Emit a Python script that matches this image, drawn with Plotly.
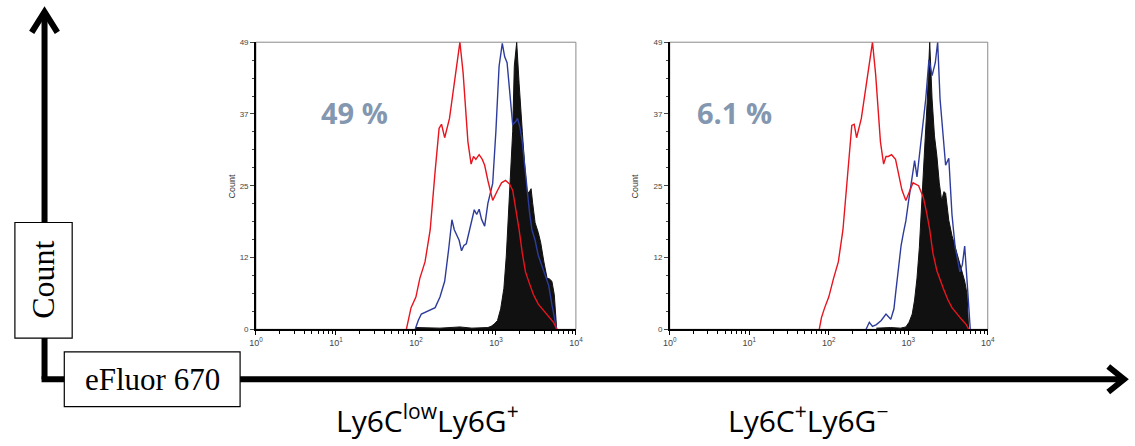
import plotly.graph_objects as go

W, H = 1135, 446

# ---- data (fluorescence intensity, count) ----
left_red_x = [76, 81, 87, 100, 112, 130, 151, 174, 195, 209, 229, 263, 288, 324, 355, 389, 417, 447,
              490, 525, 562, 617, 676, 724, 794, 912, 1047, 1175, 1318, 1479, 1622, 1778, 1950,
              2138, 2344, 2630, 2951, 3388, 3981, 4571, 5248, 5754]
left_red_y = [0, 2, 3.7, 5.5, 8.7, 11.5, 17, 27, 34.3, 35, 32.7, 36, 40, 45.5, 49, 43.8, 37, 32,
              28.2, 29.5, 29, 29.8, 29, 28, 25.4, 22, 23.7, 25, 25.4, 24.8, 23.7, 20.5, 17,
              13, 9.8, 7.8, 5.9, 4.3, 3.1, 2.2, 1.2, 0]

left_blue_x = [98, 107, 117, 132, 148, 174, 200, 229, 257, 282, 302, 324, 347, 372, 398, 427, 457,
               501, 537, 575, 617, 661, 724, 794, 912, 1000, 1096, 1202, 1288, 1380, 1514, 1622,
               1778, 1862, 1995, 2138, 2291, 2455, 2630, 2818, 3090, 3388, 3715, 4169, 4571, 5012, 5754]
left_blue_y = [0, 1.5, 2.6, 2.9, 3.3, 3.7, 5.5, 8.2, 13.7, 18.7, 17, 16.2, 15.2, 13.4, 14.3, 14.6, 16.5,
               18.8, 20.4, 19.6, 20.5, 18.8, 17.6, 21.5, 24.9, 33.8, 44.9, 48.8, 46.5, 45.5, 40, 34.9,
               35.5, 36, 34.5, 32, 28, 23.7, 20, 17, 15.2, 12.6, 11, 9.2, 7.5, 4.2, 0]

left_black_x = [100, 200, 355, 501, 794, 871, 955, 1047, 1148, 1259, 1349, 1445, 1549, 1622, 1698,
                1820, 1950, 2042, 2138, 2291, 2455, 2630, 2754, 2884, 3090, 3388, 3631, 3981,
                4365, 4677, 5012, 5370, 5754]
left_black_y = [0.3, 0.2, 0.4, 0.2, 0.3, 0.5, 0.9, 1.5, 3.5, 7, 12.5, 19.9, 27.5, 33.8, 44.9,
                49, 42, 37, 33.8, 28, 23.2, 23.5, 24, 21.5, 18.2, 16.5, 14.8, 11.5,
                8.7, 8.6, 8.2, 5.9, 0]

right_red_x = [76, 81, 89, 100, 115, 132, 151, 174, 195, 209, 224, 257, 288, 316, 355, 389, 417, 447,
               490, 525, 562, 617, 692, 776, 832, 933, 1047, 1148, 1349, 1549, 1698, 1862, 2042,
               2291, 2754, 3162, 3548, 4074, 4677, 5370, 5754]
right_red_y = [0, 2, 3.7, 5.5, 8.7, 11.5, 17, 27, 34.8, 35, 32.7, 36, 40.5, 45, 49, 43.5, 37, 32,
               28.2, 29.5, 29.5, 29.8, 29, 25.5, 23.8, 22, 23.5, 25, 24.5, 22.5, 20, 17, 13,
               10, 7, 5, 3.7, 2.6, 1.7, 0.8, 0]

right_blue_x = [295, 324, 355, 398, 457, 525, 603, 661, 692, 741, 813, 871, 933, 1000, 1072, 1148,
                1202, 1288, 1380, 1445, 1549, 1660, 1820, 1995, 2188, 2344, 2512, 2754, 2951, 3236,
                3548, 3890, 4169, 4467, 4786, 5129, 5495, 6026]
right_blue_y = [0, 1.2, 0.5, 0.8, 1.5, 2.6, 1.7, 3.5, 6, 10, 14.3, 16.5, 18.5, 21.5, 24.3, 27,
                28.8, 26, 29.5, 31.6, 35.5, 39.3, 46, 43.3, 45.5, 49, 39.3, 32, 28, 29.2,
                19.6, 14, 12, 9.8, 11, 14.2, 8.2, 0]

right_black_x = [398, 600, 800, 933, 1023, 1122, 1202, 1288, 1380, 1445, 1585, 1738, 1862, 1995,
                 2138, 2291, 2455, 2630, 2818, 2951, 3236, 3548, 3890, 4266, 4677, 5129, 5495, 5754]
right_black_y = [0.2, 0.3, 0.2, 0.4, 1.2, 2.6, 5, 8.7, 14, 20, 29.3, 39.3, 49, 39.3,
                 33, 29.6, 25, 22, 23.5, 23.2, 18.6, 16, 14, 12, 10, 8.2, 6, 0]

percent_labels = ["49 %", "6.1 %"]
population_labels = ["Ly6C<sup>low</sup>Ly6G<sup>+</sup>", "Ly6C<sup>+</sup>Ly6G<sup>\u2212</sup>"]

y_max = 49
y_tickvals = [0, 12.25, 24.5, 36.75, 49]
y_ticktext = ["0", "12", "25", "37", "49"]
x_tickvals = [1, 10, 100, 1000, 10000]
x_ticktext = ["10<sup>0</sup>", "10<sup>1</sup>", "10<sup>2</sup>", "10<sup>3</sup>", "10<sup>4</sup>"]


def fx(p):
    return p / W


def fy(p):
    return 1 - p / H


RED = "#e8141e"
BLUE = "#2d3c9c"
BLACK = "#111111"

fig = go.Figure()

panels = [
    ("x", "y", left_black_x, left_black_y, left_blue_x, left_blue_y, left_red_x, left_red_y),
    ("x2", "y2", right_black_x, right_black_y, right_blue_x, right_blue_y, right_red_x, right_red_y),
]
for xa, ya, kx, ky, bx, by, rx, ry in panels:
    fig.add_trace(go.Scatter(x=kx, y=ky, xaxis=xa, yaxis=ya, mode="lines", fill="tozeroy",
                             fillcolor=BLACK, line=dict(color=BLACK, width=1)))
    fig.add_trace(go.Scatter(x=bx, y=by, xaxis=xa, yaxis=ya, mode="lines",
                             line=dict(color=BLUE, width=1.4)))
    fig.add_trace(go.Scatter(x=rx, y=ry, xaxis=xa, yaxis=ya, mode="lines",
                             line=dict(color=RED, width=1.4)))

minor_x = [m * 10 ** d for d in range(4) for m in range(2, 10)]
minor_y = [i * y_max / 16 for i in range(17)]

ydom = [fy(332), fy(39)]
xdoms = [[fx(252), fx(576)], [fx(671), fx(993)]]

xaxis_common = dict(type="log", range=[0, 4], showgrid=False, zeroline=False,
                    showline=True, linecolor="black", linewidth=1.5,
                    ticks="outside", ticklen=4, tickcolor="black",
                    tickvals=x_tickvals, ticktext=x_ticktext,
                    tickfont=dict(family="Liberation Sans", size=9, color="#444"),
                    minor=dict(tickvals=minor_x, ticks="outside", ticklen=3, tickcolor="black"))
yaxis_common = dict(range=[0, y_max], showgrid=False, zeroline=False,
                    showline=True, linecolor="black", linewidth=1.5,
                    ticks="outside", ticklen=4, tickcolor="#444",
                    tickvals=y_tickvals, ticktext=y_ticktext,
                    tickfont=dict(family="Liberation Sans", size=8, color="#444"),
                    minor=dict(tickvals=minor_y, ticks="outside", ticklen=2, tickcolor="#444"))

fig.update_layout(
    width=W, height=H, margin=dict(l=0, r=0, t=0, b=0),
    paper_bgcolor="white", plot_bgcolor="white", showlegend=False,
    xaxis=dict(domain=xdoms[0], anchor="y", **xaxis_common),
    yaxis=dict(domain=ydom, anchor="x", **yaxis_common),
    xaxis2=dict(domain=xdoms[1], anchor="y2", **xaxis_common),
    yaxis2=dict(domain=ydom, anchor="x2", **yaxis_common),
)

shapes = []
# gray frame around each histogram
for d in xdoms:
    shapes.append(dict(type="rect", xref="paper", yref="paper", x0=d[0], x1=d[1], y0=ydom[0], y1=ydom[1],
                       line=dict(color="#8a8a8a", width=1), layer="below"))

# big axes arrows
arrow = dict(color="black", width=6)
shapes.append(dict(type="line", xref="paper", yref="paper", x0=fx(38), y0=fy(383), x1=fx(38), y1=fy(8), line=arrow))
shapes.append(dict(type="path", xref="paper", yref="paper",
                   path=f"M {fx(25)},{fy(29)} L {fx(38)},{fy(8)} L {fx(51)},{fy(29)}", line=arrow))
shapes.append(dict(type="line", xref="paper", yref="paper", x0=fx(35), y0=fy(383), x1=fx(1131), y1=fy(383), line=arrow))
shapes.append(dict(type="path", xref="paper", yref="paper",
                   path=f"M {fx(1115)},{fy(370)} L {fx(1131)},{fy(383)} L {fx(1115)},{fy(396)}", line=arrow))

# label boxes
shapes.append(dict(type="rect", xref="paper", yref="paper", x0=fx(8), x1=fx(66), y0=fy(341), y1=fy(223),
                   fillcolor="white", line=dict(color="black", width=1.2)))
shapes.append(dict(type="rect", xref="paper", yref="paper", x0=fx(58), x1=fx(236), y0=fy(411), y1=fy(355),
                   fillcolor="white", line=dict(color="black", width=1.2)))
fig.update_layout(shapes=shapes)

ann = []
ann.append(dict(text="Count", x=fx(37), y=fy(282), textangle=-90,
                font=dict(family="Liberation Serif", size=32, color="black")))
ann.append(dict(text="eFluor 670", x=fx(147), y=fy(383),
                font=dict(family="Liberation Serif", size=31, color="black")))
for cx, t in zip([352, 737], percent_labels):
    ann.append(dict(text=f"<b>{t}</b>", x=fx(cx), y=fy(111),
                    font=dict(family="Open Sans", size=29, color="#8497b0")))
for cx in [228, 636]:
    ann.append(dict(text="Count", x=fx(cx), y=fy(186), textangle=-90,
                    font=dict(family="Liberation Sans", size=9, color="#333")))
for cx, t in zip([426, 811], population_labels):
    ann.append(dict(text=t, x=fx(cx), y=fy(424),
                    font=dict(family="Open Sans", size=30, color="black")))
for a in ann:
    a.update(xref="paper", yref="paper", showarrow=False, xanchor="center", yanchor="middle")
fig.update_layout(annotations=ann)

# page body has a default margin; drop it so the figure sits at the window origin
fig.write_html("out.html", config={"displayModeBar": False},
               post_script="document.body.style.margin='0';")
